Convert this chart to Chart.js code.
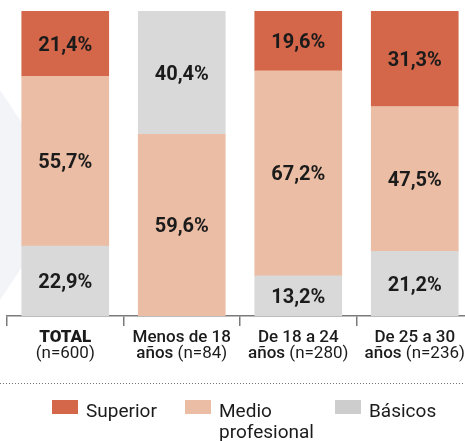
<!DOCTYPE html>
<html>
<head>
<meta charset="utf-8">
<script src="https://cdn.jsdelivr.net/npm/chart.js@4/dist/chart.umd.min.js"></script>
<style>
    html, body { margin: 0; padding: 0; background: #fff; overflow: hidden; }
    #frame { width: 465px; height: 441px; overflow: hidden; position: relative; }
    #chart-div { width: 473px; height: 441px; position: relative; }
</style>
</head>
<body>
<div id="frame"><div id="chart-div"><canvas id="chart"></canvas></div></div>
<script>
const categories = ['TOTAL', 'Menos de 18', 'De 18 a 24', 'De 25 a 30']
const sampleSizes = ['(n=600)', '(n=84)', '(n=280)', '(n=236)']
const superior = [21.4, null, 19.6, 31.3]
const medio = [55.7, 59.6, 67.2, 47.5]
const basicos = [22.9, 40.4, 13.2, 21.2]
// in "Menos de 18" the grey block sits on top of the medio block
const basicosOnTop = [false, true, false, false]

const legendNames = [['Superior'], ['Medio', 'profesional'], ['Básicos']]
const colors = { superior: '#d4664a', medio: '#ebbda4', basicos: '#d9d9d9' }
const legendColors = ['#d4664a', '#ebbda4', '#cdcdcd']

const FONT = 'Roboto, "DejaVu Sans", sans-serif'
const TEXT = '#1b1b1b'

const fmt = v => v.toFixed(1).replace('.', ',') + '%'

const datasets = [
    { label: 'Básicos', data: basicos.map((v, i) => basicosOnTop[i] ? null : v), backgroundColor: colors.basicos },
    { label: 'Medio profesional', data: medio, backgroundColor: colors.medio },
    { label: 'Superior', data: superior, backgroundColor: colors.superior },
    { label: 'Básicos ', data: basicos.map((v, i) => basicosOnTop[i] ? v : null), backgroundColor: colors.basicos }
]

const backShape = {
    id: 'backShape',
    beforeDatasetsDraw(chart) {
        const ctx = chart.ctx
        ctx.save()
        ctx.fillStyle = '#f3f4f8'
        ctx.beginPath()
        ctx.moveTo(0, 90)
        ctx.lineTo(40, 150)
        ctx.lineTo(40, 240)
        ctx.lineTo(0, 300)
        ctx.closePath()
        ctx.fill()
        ctx.restore()
    }
}

const valueLabels = {
    id: 'valueLabels',
    afterDatasetsDraw(chart) {
        const ctx = chart.ctx
        ctx.save()
        ctx.font = `bold 20px ${FONT}`
        ctx.fillStyle = TEXT
        ctx.textAlign = 'center'
        ctx.textBaseline = 'middle'
        chart.data.datasets.forEach((ds, di) => {
            const meta = chart.getDatasetMeta(di)
            meta.data.forEach((bar, i) => {
                const v = ds.data[i]
                if (v == null || !v) return
                ctx.fillText(fmt(v), bar.x, (bar.y + bar.base) / 2 + 2)
            })
        })
        ctx.restore()
    }
}

const drawMixed = (ctx, parts, cx, y) => {
    let total = 0
    for (const p of parts) {
        ctx.font = p.font
        total += ctx.measureText(p.text).width
    }
    let x = cx - total / 2
    for (const p of parts) {
        ctx.font = p.font
        ctx.fillText(p.text, x, y)
        x += ctx.measureText(p.text).width
    }
}

const axisLabels = {
    id: 'axisLabels',
    afterDraw(chart) {
        const ctx = chart.ctx
        const xs = chart.scales.x
        const bottom = chart.chartArea.bottom
        ctx.save()
        ctx.fillStyle = TEXT
        ctx.textAlign = 'left'
        ctx.textBaseline = 'alphabetic'
        categories.forEach((cat, i) => {
            const cx = xs.getPixelForValue(i)
            if (i === 0) {
                drawMixed(ctx, [{ text: cat, font: `900 17px ${FONT}` }], cx, bottom + 26)
                drawMixed(ctx, [{ text: sampleSizes[i], font: `17px ${FONT}` }], cx, bottom + 42)
            } else {
                drawMixed(ctx, [{ text: cat, font: `500 17px ${FONT}` }], cx, bottom + 26)
                drawMixed(ctx, [
                    { text: 'años ', font: `500 17px ${FONT}` },
                    { text: sampleSizes[i], font: `17px ${FONT}` }
                ], cx, bottom + 42)
            }
        })

        // dotted separator
        ctx.strokeStyle = '#777'
        ctx.lineWidth = 1
        ctx.setLineDash([1, 2])
        ctx.beginPath()
        ctx.moveTo(0, 383.5)
        ctx.lineTo(chart.width, 383.5)
        ctx.stroke()
        ctx.setLineDash([])

        // legend
        const legendX = [52, 185, 335]
        legendNames.forEach((lines, i) => {
            ctx.fillStyle = legendColors[i]
            ctx.fillRect(legendX[i], 400, 26, 14)
            ctx.fillStyle = TEXT
            ctx.font = `19px ${FONT}`
            lines.forEach((line, j) => {
                ctx.fillText(line, legendX[i] + 34, 417 + j * 21)
            })
        })
        ctx.restore()
    }
}

new Chart(document.getElementById('chart').getContext('2d'), {
    type: 'bar',
    data: { labels: categories, datasets: datasets },
    options: {
        responsive: true,
        maintainAspectRatio: false,
        animation: false,
        layout: { padding: { left: 7, right: 0, top: 11, bottom: 0 } },
        plugins: { legend: { display: false }, tooltip: { enabled: false } },
        datasets: { bar: { barThickness: 87, borderWidth: 0 } },
        scales: {
            x: {
                stacked: true,
                offset: true,
                grid: { offset: true, drawOnChartArea: false, drawTicks: true, tickLength: 10, color: '#7a7a7a', lineWidth: 1.5 },
                border: { color: '#7a7a7a', width: 1.5 },
                ticks: { display: false },
                afterFit: s => { s.height = 125 }
            },
            y: { stacked: true, display: false, min: 0, max: 100 }
        }
    },
    plugins: [backShape, valueLabels, axisLabels]
});
</script>
</body>
</html>
